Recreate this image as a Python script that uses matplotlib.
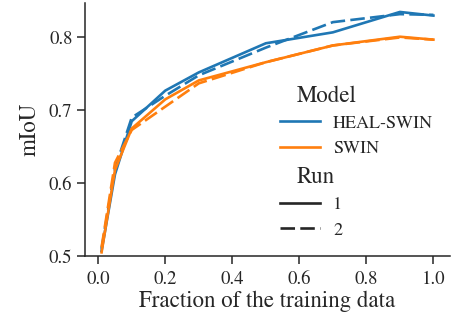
import matplotlib
matplotlib.use("Agg")
import matplotlib.pyplot as plt
from matplotlib.lines import Line2D

plt.rcParams['font.family'] = ['STIXGeneral', 'Liberation Serif', 'DejaVu Serif']

fraction = [0.01, 0.05, 0.1, 0.2, 0.3, 0.5, 0.7, 0.9, 1.0]
heal_run1 = [0.507, 0.612, 0.685, 0.727, 0.752, 0.792, 0.807, 0.835, 0.830]
heal_run2 = [0.510, 0.620, 0.690, 0.720, 0.748, 0.786, 0.821, 0.832, 0.831]
swin_run1 = [0.505, 0.618, 0.675, 0.715, 0.741, 0.766, 0.789, 0.801, 0.797]
swin_run2 = [0.512, 0.628, 0.673, 0.705, 0.737, 0.766, 0.789, 0.800, 0.797]

models = ['HEAL-SWIN', 'SWIN']
runs = ['1', '2']
colors = ['#1f77b4', '#ff7f0e']
dash_style = (5.5, 2)
ink = '#262626'
lw = 1.9

fig = plt.figure(figsize=(4.52, 3.21), dpi=100)
ax = fig.add_axes([0.188, 0.2025, 0.8076, 0.7875])

series = {('HEAL-SWIN', '1'): heal_run1, ('HEAL-SWIN', '2'): heal_run2,
          ('SWIN', '1'): swin_run1, ('SWIN', '2'): swin_run2}
for (m, r), vals in series.items():
    ln, = ax.plot(fraction, vals, color=colors[models.index(m)], lw=lw)
    if r == '2':
        ln.set_dashes(dash_style)

ax.set_xlim(-0.0395, 1.0495)
ax.set_ylim(0.5, 0.847)
ax.set_xticks([0.0, 0.2, 0.4, 0.6, 0.8, 1.0])
ax.set_yticks([0.5, 0.6, 0.7, 0.8])
ax.spines['top'].set_visible(False)
ax.spines['right'].set_visible(False)
for s in ['left', 'bottom']:
    ax.spines[s].set_linewidth(1.1)
    ax.spines[s].set_color(ink)
ax.tick_params(length=5.5, width=1.1, labelsize=13.5, colors=ink)
ax.tick_params(axis='x', pad=5.5)
ax.tick_params(axis='y', pad=3.5)
ax.set_xlabel('Fraction of the training data', fontsize=16.5, color=ink, labelpad=1.5)
ax.set_ylabel('mIoU', fontsize=16.5, color=ink, labelpad=6)

# legend: two blocks, subtitles drawn as plain text like seaborn does
model_handles = [Line2D([], [], color=c, lw=lw) for c in colors]
run_handles = [Line2D([], [], color=ink, lw=lw),
               Line2D([], [], color=ink, lw=lw, dashes=dash_style)]
leg_kw = dict(frameon=False, fontsize=13, loc='center left', borderaxespad=0, borderpad=0,
              handlelength=2.2, labelspacing=0.5, handletextpad=0.75, labelcolor=ink)
leg1 = ax.legend(model_handles, models, bbox_to_anchor=(0.534, 0.474), **leg_kw)
ax.add_artist(leg1)
ax.legend(run_handles, runs, bbox_to_anchor=(0.534, 0.152), **leg_kw)

ax.text(0.581, 0.630, 'Model', transform=ax.transAxes, fontsize=16.5, color=ink, va='center')
ax.text(0.581, 0.312, 'Run', transform=ax.transAxes, fontsize=16.5, color=ink, va='center')

fig.savefig('out.png', dpi=100)
